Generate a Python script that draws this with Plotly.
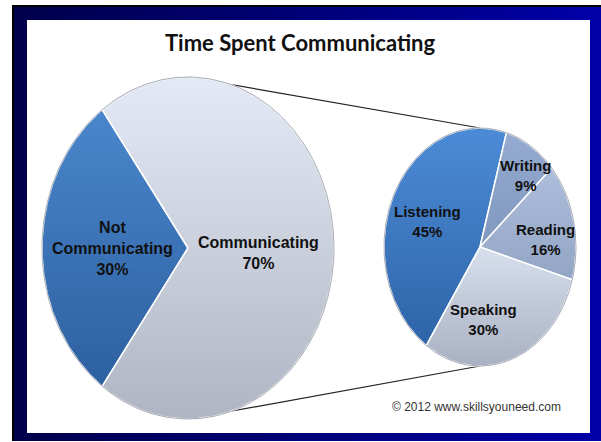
import numpy as np
import plotly.graph_objects as go

# ---------------- data ----------------
title_text = "Time Spent Communicating"
outer_categories = ["Not Communicating", "Communicating"]
outer_values = [30, 70]
detail_categories = ["Listening", "Writing", "Reading", "Speaking"]
detail_values = [45, 9, 16, 30]
credit_text = "© 2012 www.skillsyouneed.com"

# ---------------- styling / layout constants ----------------
W, H = 601, 442
LEFT_PIE = dict(cx=188, cy=248, rx=146, ry=171, start=234)
RIGHT_PIE = dict(cx=480, cy=247, rx=96, ry=119, start=236)

# [top colour, bottom colour]
outer_colors = {
    "Not Communicating": ["#4a86cc", "#2d60a0"],
    "Communicating": ["#e4eaf5", "#b0b5c3"],
}
detail_colors = {
    "Listening": ["#4c8bd6", "#2e64a8"],
    "Writing": ["#95abd1", "#8097be"],
    "Reading": ["#acbedb", "#93a5c4"],
    "Speaking": ["#d8e0ee", "#a8b0c2"],
}
label_pos = {
    "Not Communicating": (112, 248, 16),
    "Communicating": (258, 253, 16),
    "Listening": (427, 221, 15),
    "Writing": (525, 175, 15),
    "Reading": (545, 239, 15),
    "Speaking": (483, 319, 15),
}

fig = go.Figure()

# frame
fig.add_trace(go.Scatter(
    x=[12, W, W, 12, 12], y=[5, 5, 441, 441, 5], mode="lines", fill="toself",
    line=dict(width=0), fillcolor="#000080",
    fillgradient=dict(type="horizontal",
                      colorscale=[[0, "#00004c"], [0.5, "#000078"], [1, "#0000a8"]]),
    hoverinfo="skip", showlegend=False))
fig.add_trace(go.Scatter(
    x=[13, 13, W], y=[441, 6, 6], mode="lines", line=dict(color="#000000", width=2),
    hoverinfo="skip", showlegend=False))
fig.add_trace(go.Scatter(
    x=[27, 590, 590, 27, 27], y=[20, 20, 433, 433, 20], mode="lines", fill="toself",
    line=dict(width=0), fillcolor="#ffffff", hoverinfo="skip", showlegend=False))


def ellipse_point(p, t):
    r = np.radians(t)
    return p["cx"] + p["rx"] * np.cos(r), p["cy"] - p["ry"] * np.sin(r)


# connector lines (top to top, bottom to bottom)
for ang in (90, 270):
    x0, y0 = ellipse_point(LEFT_PIE, ang)
    x1, y1 = ellipse_point(RIGHT_PIE, ang)
    fig.add_trace(go.Scatter(x=[x0, x1], y=[y0, y1], mode="lines",
                             line=dict(color="#222222", width=1.2),
                             hoverinfo="skip", showlegend=False))


def draw_pie(p, cats, vals, colors):
    total = float(sum(vals))
    a = p["start"]
    for c, v in zip(cats, vals):
        span = 360.0 * v / total
        ts = np.linspace(a, a - span, max(4, int(span * 2)))
        xs, ys = ellipse_point(p, ts)
        xs = np.concatenate([[p["cx"]], xs, [p["cx"]]])
        ys = np.concatenate([[p["cy"]], ys, [p["cy"]]])
        top, bot = colors[c]
        fig.add_trace(go.Scatter(
            x=xs, y=ys, mode="lines", fill="toself",
            line=dict(color="#ffffff", width=1.5), fillcolor=top,
            fillgradient=dict(type="vertical", colorscale=[[0, bot], [1, top]]),
            name=c, hoverinfo="skip", showlegend=False))
        a -= span
    ts = np.linspace(0, 360, 400)
    xs, ys = ellipse_point(p, ts)
    fig.add_trace(go.Scatter(x=xs, y=ys, mode="lines",
                             line=dict(color="rgba(130,135,150,0.7)", width=1),
                             hoverinfo="skip", showlegend=False))


draw_pie(LEFT_PIE, outer_categories, outer_values, outer_colors)
draw_pie(RIGHT_PIE, detail_categories, detail_values, detail_colors)

annotations = []
for cats, vals in ((outer_categories, outer_values), (detail_categories, detail_values)):
    for c, v in zip(cats, vals):
        x, y, s = label_pos[c]
        txt = c.replace(" ", "<br>") if c == "Not Communicating" else c
        annotations.append(dict(
            x=x, y=y, xref="x", yref="y", text=f"{txt}<br>{v}%", showarrow=False,
            font=dict(family="Liberation Sans, Arial, sans-serif", size=s,
                      color="#111111", weight="bold"),
            align="center", xanchor="center", yanchor="middle"))

annotations.append(dict(
    x=300, y=42, xref="x", yref="y", text=title_text, showarrow=False,
    font=dict(family="Lato, sans-serif", size=22, color="#111111", weight="bold"),
    xanchor="center", yanchor="middle"))
annotations.append(dict(
    x=476, y=407, xref="x", yref="y", text=credit_text, showarrow=False,
    font=dict(family="Liberation Sans, Arial, sans-serif", size=12, color="#333333"),
    xanchor="center", yanchor="middle"))

fig.update_layout(
    width=W, height=H, margin=dict(l=0, r=0, t=0, b=0),
    paper_bgcolor="#ffffff", plot_bgcolor="#ffffff",
    xaxis=dict(range=[0, W], visible=False, fixedrange=True),
    yaxis=dict(range=[H, 0], visible=False, fixedrange=True),
    annotations=annotations, showlegend=False,
)

fig.write_html(
    "out.html",
    config={"displayModeBar": False},
    post_script="document.body.style.margin='0px';document.body.style.overflow='hidden';",
)
